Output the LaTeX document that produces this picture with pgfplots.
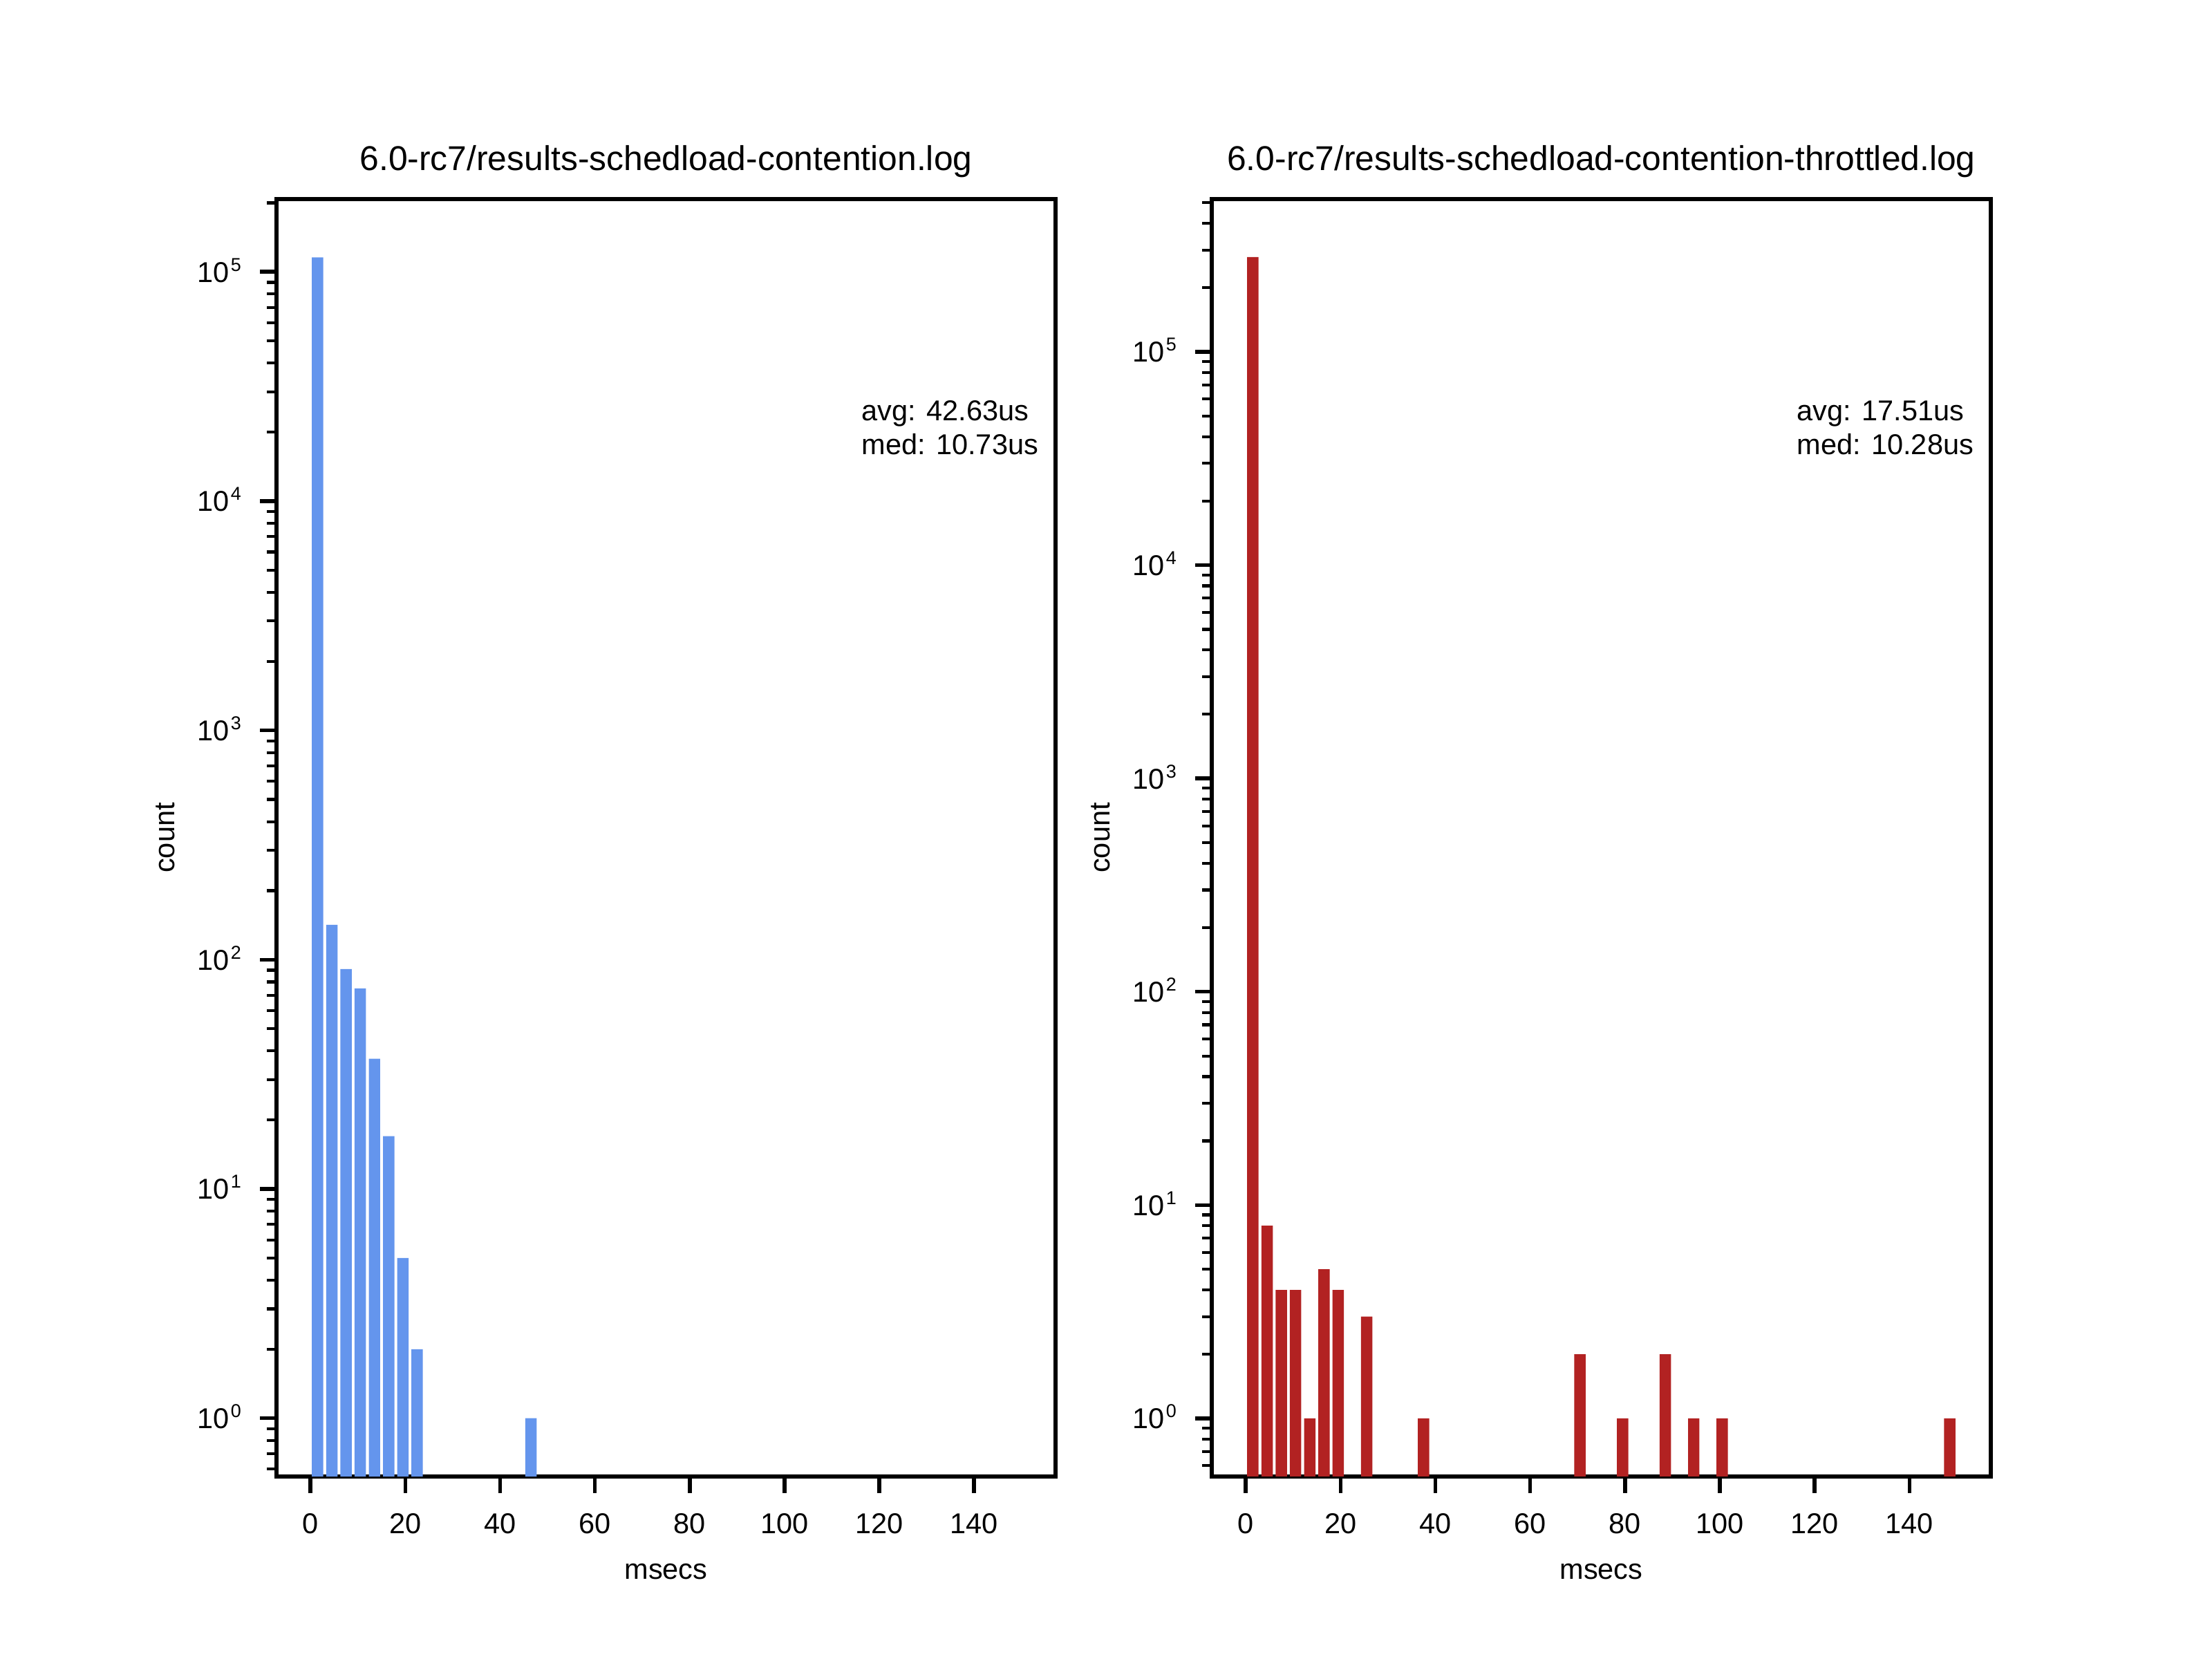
\documentclass[border=0pt]{standalone}
\usepackage{fontspec}
\setmainfont{Liberation Sans}
\usepackage{pgfplots}
\pgfplotsset{compat=1.18}
\definecolor{cblue}{RGB}{100,149,237}
\definecolor{fbrick}{RGB}{178,34,34}
\newcommand\tickfont{\fontsize{6}{7.2}\selectfont}
\newcommand\titlefont{\fontsize{7.2}{8.6}\selectfont}
\newcommand\dec[1]{10\kern0.3pt\raisebox{2.3pt}{\fontsize{3.9}{4}\selectfont #1}}
\begin{document}
\begin{tikzpicture}
\path[use as bounding box] (0,0) rectangle (6.4in,4.8in);
\begin{axis}[
    scale only axis, width=2.254in, height=3.696in, anchor=south west,
    at={(0.8in,0.528in)},
    xmin=-7.17, xmax=157.17, ymode=log, log origin=infty,
    ymin=0.557, ymax=207700,
    bar width=2.4,
    axis line style={line width=0.8pt},
    tick align=outside, tick pos=left,
    major tick length=3.5pt, minor tick length=2pt,
    major tick style={line width=0.8pt, black},
    minor tick style={line width=0.6pt, black},
    xtick={0,20,...,140}, xticklabels={0,20,40,60,80,100,120,140},
    ytick={1,10,100,1000,10000,100000},
    yticklabels={\dec{0},\dec{1},\dec{2},\dec{3},\dec{4},\dec{5}},
    minor ytick={0.6,0.7,0.8,0.9,2,3,4,5,6,7,8,9,20,30,40,50,60,70,80,90,200,300,400,500,600,700,800,900,2000,3000,4000,5000,6000,7000,8000,9000,20000,30000,40000,50000,60000,70000,80000,90000,200000},
    ticklabel style={font=\tickfont},
    xticklabel style={anchor=north, inner sep=0pt, yshift=-3.99pt},
    yticklabel style={anchor=base east, inner sep=0pt, yshift=-2.15pt, xshift=-3.7pt},
    title style={at={(0.5,1)}, anchor=base, inner sep=0pt, yshift=-0.05pt, font=\titlefont},
    title={6.0-rc7/results-schedload-contention.log},
    clip=false]
\addplot[ybar, bar width=2.4, fill=cblue, draw=none] coordinates {
(1.5,115700) (4.5,142) (7.5,91) (10.5,75) (13.5,37) (16.5,17) (19.5,5) (22.5,2) (46.5,1)};
\node[anchor=base west, font=\tickfont, inner sep=0pt] at (rel axis cs:0.75,0.8268) {avg: 42.63us};
\node[anchor=base west, font=\tickfont, inner sep=0pt] at (rel axis cs:0.75,0.8003) {med: 10.73us};
\node[anchor=base, font=\tickfont, inner sep=0pt] at (rel axis cs:0.5,-0.0806) {msecs};
\node[anchor=base, rotate=90, font=\tickfont, inner sep=0pt] at (rel axis cs:-0.1313,0.5) {count};
\end{axis}
\begin{axis}[
    scale only axis, width=2.254in, height=3.696in, anchor=south west,
    at={(3.506in,0.528in)},
    xmin=-7.17, xmax=157.17, ymode=log, log origin=infty,
    ymin=0.534, ymax=520000,
    bar width=2.4,
    axis line style={line width=0.8pt},
    tick align=outside, tick pos=left,
    major tick length=3.5pt, minor tick length=2pt,
    major tick style={line width=0.8pt, black},
    minor tick style={line width=0.6pt, black},
    xtick={0,20,...,140}, xticklabels={0,20,40,60,80,100,120,140},
    ytick={1,10,100,1000,10000,100000},
    yticklabels={\dec{0},\dec{1},\dec{2},\dec{3},\dec{4},\dec{5}},
    minor ytick={0.6,0.7,0.8,0.9,2,3,4,5,6,7,8,9,20,30,40,50,60,70,80,90,200,300,400,500,600,700,800,900,2000,3000,4000,5000,6000,7000,8000,9000,20000,30000,40000,50000,60000,70000,80000,90000,200000,300000,400000,500000},
    ticklabel style={font=\tickfont},
    xticklabel style={anchor=north, inner sep=0pt, yshift=-3.99pt},
    yticklabel style={anchor=base east, inner sep=0pt, yshift=-2.15pt, xshift=-3.7pt},
    title style={at={(0.5,1)}, anchor=base, inner sep=0pt, yshift=-0.05pt, font=\titlefont},
    title={6.0-rc7/results-schedload-contention-throttled.log},
    clip=false]
\addplot[ybar, bar width=2.4, fill=fbrick, draw=none] coordinates {
(1.5,278000) (4.5,8) (7.5,4) (10.5,4) (13.5,1) (16.5,5) (19.5,4) (25.5,3) (37.5,1) (70.5,2) (79.5,1) (88.5,2) (94.5,1) (100.5,1) (148.5,1)};
\node[anchor=base west, font=\tickfont, inner sep=0pt] at (rel axis cs:0.75,0.8268) {avg: 17.51us};
\node[anchor=base west, font=\tickfont, inner sep=0pt] at (rel axis cs:0.75,0.8003) {med: 10.28us};
\node[anchor=base, font=\tickfont, inner sep=0pt] at (rel axis cs:0.5,-0.0806) {msecs};
\node[anchor=base, rotate=90, font=\tickfont, inner sep=0pt] at (rel axis cs:-0.1313,0.5) {count};
\end{axis}
\end{tikzpicture}
\end{document}
